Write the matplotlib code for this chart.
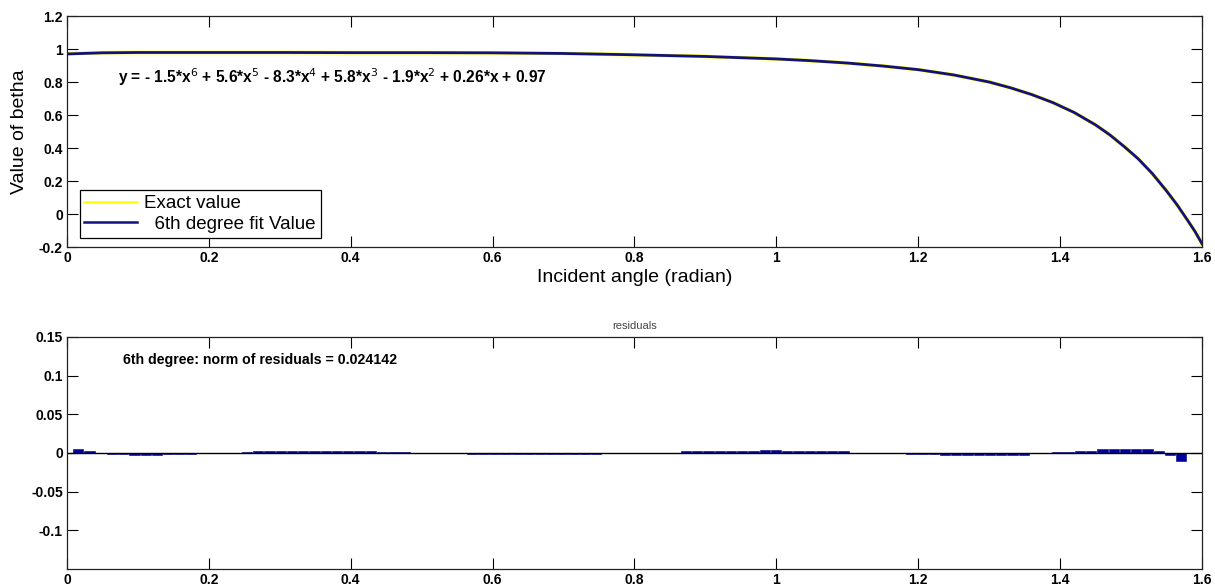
import numpy as np
import matplotlib
matplotlib.use('Agg')
import matplotlib.pyplot as plt

plt.rcParams['font.family'] = ['Liberation Sans', 'DejaVu Sans']

# Top plot: betha vs incident angle
angle = [0.0, 0.05, 0.1, 0.2, 0.3, 0.4, 0.5, 0.6, 0.7, 0.8, 0.9, 1.0, 1.05, 1.1,
         1.15, 1.2, 1.25, 1.3, 1.33, 1.36, 1.39, 1.42, 1.45, 1.47, 1.49, 1.51,
         1.53, 1.55, 1.565, 1.58, 1.59, 1.6]
betha_exact = [0.972, 0.978, 0.979, 0.979, 0.979, 0.978, 0.978, 0.977, 0.973, 0.965,
               0.955, 0.94, 0.929, 0.915, 0.897, 0.875, 0.843, 0.80, 0.765, 0.724,
               0.675, 0.615, 0.54, 0.48, 0.41, 0.335, 0.245, 0.14, 0.055, -0.04,
               -0.105, -0.18]
betha_fit = [0.970, 0.977, 0.979, 0.979, 0.979, 0.978, 0.978, 0.977, 0.973, 0.965,
             0.955, 0.94, 0.929, 0.915, 0.897, 0.875, 0.843, 0.80, 0.765, 0.724,
             0.675, 0.615, 0.54, 0.48, 0.41, 0.335, 0.245, 0.14, 0.055, -0.04,
             -0.105, -0.18]

# Residuals, one per sample point (100 points from 0 to pi/2)
residuals = [0, 0.005, 0.002, 0, -0.001, -0.001, -0.002, -0.003, -0.003, -0.001,
             -0.001, -0.001, 0, 0, 0.0005, 0.0005, 0.001, 0.002, 0.002, 0.0025,
             0.0025, 0.0025, 0.0025, 0.0025, 0.0025, 0.0025, 0.002, 0.002, 0.001, 0.001,
             0.001, 0, 0, 0, 0, 0, -0.001, -0.001, -0.001, -0.001,
             -0.001, -0.001, -0.001, -0.001, -0.001, -0.001, -0.001, -0.001, 0, 0,
             0, 0, 0.0005, 0.0005, 0.0005, 0.002, 0.002, 0.002, 0.002, 0.002,
             0.002, 0.003, 0.0035, 0.0035, 0.003, 0.002, 0.002, 0.002, 0.002, 0.002,
             0.0005, 0.0005, 0, 0, 0, -0.001, -0.001, -0.001, -0.003, -0.003,
             -0.003, -0.003, -0.003, -0.003, -0.003, -0.003, -0.0005, -0.0005, 0.001, 0.001,
             0.002, 0.003, 0.005, 0.005, 0.005, 0.005, 0.005, 0.002, -0.002, -0.01]
res_angle = np.linspace(0, np.pi / 2, len(residuals))

equation = ('y = - 1.5*x$^{6}$ + 5.6*x$^{5}$ - 8.3*x$^{4}$ + 5.8*x$^{3}$'
            ' - 1.9*x$^{2}$ + 0.26*x + 0.97')
norm_text = '6th degree: norm of residuals = 0.024142'
xtick_labels = ['0', '0.2', '0.4', '0.6', '0.8', '1', '1.2', '1.4', '1.6']

fig = plt.figure(figsize=(12.15, 5.87), dpi=100)
ax1 = fig.add_axes([0.0551, 0.5792, 0.9342, 0.3935])
ax2 = fig.add_axes([0.0551, 0.0307, 0.9342, 0.3952])

for ax in (ax1, ax2):
    ax.tick_params(direction='in', length=8, width=0.8, top=True, right=True,
                   labelsize=10, pad=3)
    for sp in ax.spines.values():
        sp.set_color('#222222')
        sp.set_linewidth(0.9)

# top panel
ax1.plot(angle, betha_exact, color='#ffff00', lw=2.6, label='Exact value')
ax1.plot(angle, betha_fit, color='#101080', lw=2.0, label='  6th degree fit Value')
ax1.set_xlim(0, 1.6)
ax1.set_ylim(-0.2, 1.2)
ax1.set_xticks(np.arange(0, 1.61, 0.2))
ax1.set_yticks(np.arange(-0.2, 1.21, 0.2))
ax1.set_xticklabels(xtick_labels, fontweight='bold')
ax1.set_yticklabels(['-0.2', '0', '0.2', '0.4', '0.6', '0.8', '1', '1.2'],
                    fontweight='bold')
ax1.set_xlabel('Incident angle (radian)', fontsize=14, labelpad=3)
ax1.set_ylabel('Value of betha', fontsize=14, labelpad=8)
ax1.text(0.072, 0.83, equation, fontsize=11.2, fontweight='bold', va='center')
leg = ax1.legend(loc='lower left', bbox_to_anchor=(0.003, 0.0), fontsize=13.5,
                 handlelength=2.8, fancybox=False, edgecolor='black',
                 framealpha=1, borderpad=0.25, labelspacing=0.2, handletextpad=0.4)
leg.get_frame().set_linewidth(0.9)
for ln in leg.get_lines():
    ln.set_linewidth(1.8)

# bottom panel
ax2.bar(res_angle, residuals, width=0.0145, color='#00009c', edgecolor='#00007a',
        linewidth=0.4)
ax2.axhline(0, color='black', lw=1.0)
ax2.set_xlim(0, 1.6)
ax2.set_ylim(-0.15, 0.15)
ax2.set_xticks(np.arange(0, 1.61, 0.2))
ax2.set_yticks([-0.1, -0.05, 0, 0.05, 0.1, 0.15])
ax2.set_xticklabels(xtick_labels, fontweight='bold')
ax2.set_yticklabels(['-0.1', '-0.05', '0', '0.05', '0.1', '0.15'],
                    fontweight='bold')
ax2.set_title('residuals', fontsize=8, color='#444444', pad=6)
ax2.text(0.079, 0.12, norm_text, fontsize=10.2, fontweight='bold', va='center')

fig.savefig('out.png', dpi=100)
